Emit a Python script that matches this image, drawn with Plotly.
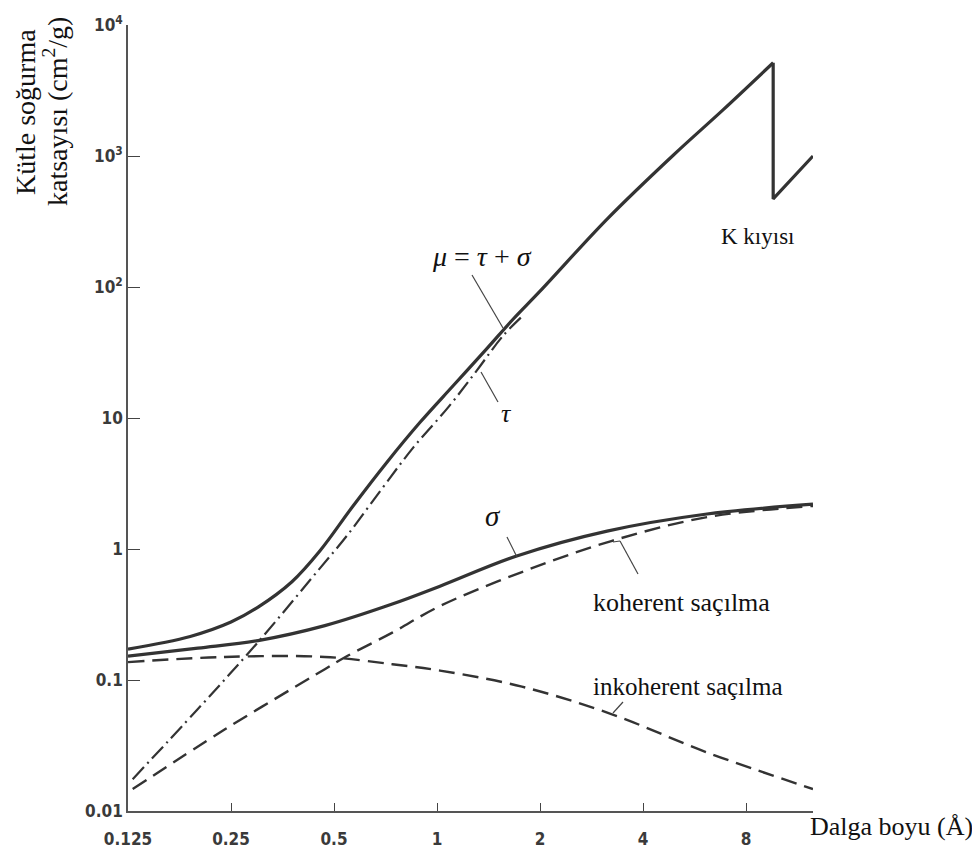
import plotly.graph_objects as go
import math

# ---- data (wavelength in Angstrom, mass absorption coefficient in cm^2/g) ----
mu_x = [0.125, 0.19, 0.25, 0.30, 0.376, 0.455, 0.569, 0.713, 0.892, 1.116, 1.396, 1.67, 2.0,
        3.14, 4.9, 6.85, 9.6, 9.6, 12.55]
mu_y = [0.172, 0.215, 0.277, 0.36, 0.56, 0.97, 2.14, 4.58, 9.27, 17.7, 33.7, 57, 93,
        330, 1014, 2250, 5150, 470, 1000]
mu_edge_index = 16  # index of the K-edge peak

tau_x = [0.129, 0.2, 0.3, 0.45, 0.545, 0.689, 0.853, 1.079, 1.306, 1.56, 1.8]
tau_y = [0.0175, 0.06, 0.195, 0.69, 1.26, 2.87, 5.97, 12.1, 23, 42.5, 62]

sigma_x = [0.125, 0.2, 0.30, 0.47, 0.74, 1.02, 1.71, 3.14, 6.15, 12.55]
sigma_y = [0.152, 0.175, 0.20, 0.26, 0.38, 0.52, 0.885, 1.37, 1.85, 2.2]

coh_x = [0.129, 0.24, 0.47, 0.54, 0.74, 1.02, 1.77, 3.23, 6.15, 12.55]
coh_y = [0.0147, 0.042, 0.121, 0.15, 0.23, 0.367, 0.667, 1.15, 1.75, 2.13]

inc_x = [0.125, 0.24, 0.47, 0.74, 1.02, 1.77, 3.23, 6.15, 12.55]
inc_y = [0.137, 0.15, 0.15, 0.132, 0.118, 0.089, 0.055, 0.028, 0.0147]

x_ticks = [0.125, 0.25, 0.5, 1, 2, 4, 8]
x_ticktext = ["0.125", "0.25", "0.5", "1", "2", "4", "8"]
y_ticks = [0.01, 0.1, 1, 10, 100, 1000, 10000]
y_ticktext = ["0.01", "0.1", "1", "10", "10<sup>2</sup>", "10<sup>3</sup>", "10<sup>4</sup>"]

# ---- layout geometry (page body has an 8px margin) ----
OFF = 8
W, H = 980 - OFF, 853 - OFF
PL, PR, PT, PB = 128, 813, 25, 811   # plot area in page pixels
L, T = PL - OFF, PT - OFF
R, B = W - (PR - OFF), H - (PB - OFF)

def px(x):
    return (x - PL) / (PR - PL)

def py(y):
    return (PB - y) / (PB - PT)

LINE = "#333333"
tickfont = dict(family="DejaVu Sans Condensed, Liberation Sans Narrow, sans-serif",
                size=17, color="#3a3a3a", weight="bold")
serif = "Liberation Serif, Times New Roman, serif"

fig = go.Figure()
fig.add_trace(go.Scatter(x=mu_x[:mu_edge_index + 1], y=mu_y[:mu_edge_index + 1], mode="lines",
                         line=dict(color=LINE, width=3.2, shape="spline", smoothing=1.0), name="μ"))
fig.add_trace(go.Scatter(x=mu_x[mu_edge_index:], y=mu_y[mu_edge_index:], mode="lines",
                         line=dict(color=LINE, width=3.2), name="μ K"))
fig.add_trace(go.Scatter(x=tau_x, y=tau_y, mode="lines",
                         line=dict(color=LINE, width=2.2, dash="16px,5px,2px,5px",
                                   shape="spline", smoothing=1.0), name="τ"))
fig.add_trace(go.Scatter(x=sigma_x, y=sigma_y, mode="lines",
                         line=dict(color=LINE, width=3.2, shape="spline", smoothing=1.0), name="σ"))
fig.add_trace(go.Scatter(x=coh_x, y=coh_y, mode="lines",
                         line=dict(color=LINE, width=2.4, dash="16px,8px",
                                   shape="spline", smoothing=1.0), name="koherent"))
fig.add_trace(go.Scatter(x=inc_x, y=inc_y, mode="lines",
                         line=dict(color=LINE, width=2.4, dash="16px,8px",
                                   shape="spline", smoothing=1.0), name="inkoherent"))

# pointer lines (page pixel coordinates)
pointers = [
    ((472, 275), (503, 328)),
    ((481, 372), (498, 402)),
    ((507, 537), (517, 557)),
    ((613, 542), (620, 541)),
    ((620, 541), (638, 574)),
    ((613, 713), (623, 702)),
]
shapes = []
for (x0, y0), (x1, y1) in pointers:
    shapes.append(dict(type="line", xref="paper", yref="paper",
                       x0=px(x0), y0=py(y0), x1=px(x1), y1=py(y1),
                       line=dict(color="#444444", width=1.2)))

labels = [
    ("<i>μ</i> = <i>τ</i> + <i>σ</i>", 482, 257, 28),
    ("<i>τ</i>", 506, 413, 26),
    ("<i>σ</i>", 493, 516, 29),
    ("koherent saçılma", 681, 602, 26),
    ("inkoherent saçılma", 688, 686, 25),
    ("K kıyısı", 757, 236, 23),
    ("Dalga boyu (Å)", 891, 826, 26),
]
annotations = []
for text, x, y, s in labels:
    annotations.append(dict(text=text, x=px(x), y=py(y), xref="paper", yref="paper",
                            showarrow=False, xanchor="center", yanchor="middle",
                            font=dict(family=serif, size=s, color="#111111")))

for text, x in [("Kütle soğurma", 25), ("katsayısı (cm<sup>2</sup>/g)", 55)]:
    annotations.append(dict(text=text, x=px(x), y=py(112), xref="paper", yref="paper",
                            showarrow=False, textangle=-90, xanchor="center", yanchor="middle",
                            font=dict(family=serif, size=28, color="#111111")))

fig.update_layout(
    width=W, height=H,
    margin=dict(l=L, r=R, t=T, b=B, autoexpand=False),
    plot_bgcolor="white", paper_bgcolor="white",
    showlegend=False,
    shapes=shapes,
    annotations=annotations,
    xaxis=dict(type="log", range=[math.log10(0.125), math.log10(12.55)],
               tickvals=x_ticks, ticktext=x_ticktext, ticks="inside", ticklen=8,
               tickcolor="#444444", tickwidth=1.3, ticklabelstandoff=12,
               showline=True, linecolor="#555555", linewidth=1.6,
               showgrid=False, zeroline=False, tickfont=tickfont),
    yaxis=dict(type="log", range=[-2, 4],
               tickvals=y_ticks, ticktext=y_ticktext, ticks="inside", ticklen=12,
               tickcolor="#444444", tickwidth=1.3,
               showline=True, linecolor="#555555", linewidth=1.6,
               showgrid=False, zeroline=False, tickfont=tickfont),
)

fig.write_html("out.html")
